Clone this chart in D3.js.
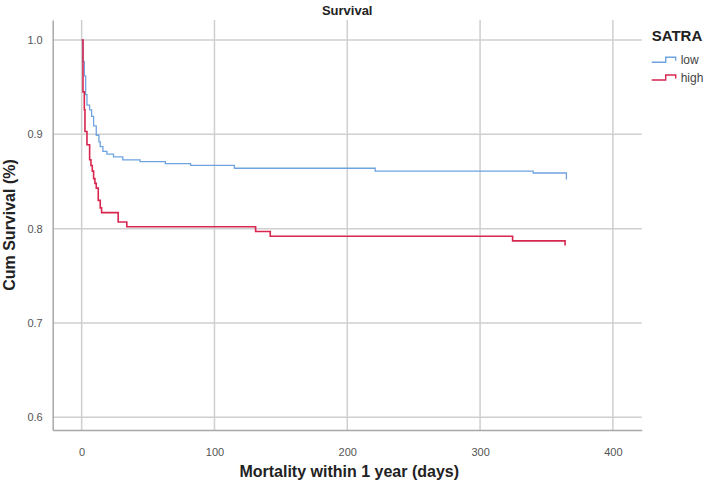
<!DOCTYPE html>
<html>
<head>
<meta charset="utf-8">
<script src="https://cdn.jsdelivr.net/npm/d3@7"></script>
<style>
  body { margin: 0; background: #fff; }
  text { font-family: "Liberation Sans", Arial, sans-serif; }
</style>
</head>
<body>
<div id="km-container"></div>
<script>
// Kaplan-Meier steps (day, cumulative survival)
const lowDays = [0, 1, 2, 3, 4, 6, 7.5, 9, 11, 13, 14, 16, 19, 24, 31, 44, 63, 82, 115, 221, 340, 365];
const lowSurv = [1.0, 0.977, 0.962, 0.942, 0.931, 0.926, 0.919, 0.909, 0.899, 0.892, 0.887, 0.882, 0.879, 0.876, 0.873, 0.871, 0.869, 0.867, 0.864, 0.861, 0.859, 0.852];

const highDays = [0, 1, 2, 2.5, 4, 6, 7, 8, 9, 10, 11, 12.5, 14, 15, 27.5, 34, 131, 142, 324.5, 364];
const highSurv = [1.0, 0.945, 0.926, 0.903, 0.889, 0.873, 0.867, 0.861, 0.853, 0.848, 0.843, 0.830, 0.822, 0.817, 0.807, 0.802, 0.797, 0.792, 0.787, 0.782];

const groups = ["low", "high"];
const xTicks = [0, 100, 200, 300, 400];
const yTicks = [0.6, 0.7, 0.8, 0.9, 1.0];

function survivalChart() {
  const width = 709;
  const height = 492;
  const margin = { top: 20, right: 67.3, bottom: 62, left: 52.7 };

  const svg = d3
    .select("#km-container")
    .append("svg")
    .attr("width", width)
    .attr("height", height);

  // scales
  const x = d3
    .scaleLinear()
    .domain([-21.8, 421.7])
    .range([margin.left, width - margin.right]);

  const y = d3
    .scaleLinear()
    .domain([0.5865, 1.0212])
    .range([height - margin.bottom, margin.top]);

  const color = d3
    .scaleOrdinal()
    .domain(groups)
    .range(["#6fa3df", "#d8264f"]);

  // gridlines
  svg
    .append("g")
    .selectAll("line")
    .data(yTicks)
    .join("line")
    .attr("x1", x.range()[0])
    .attr("x2", x.range()[1])
    .attr("y1", (d) => y(d))
    .attr("y2", (d) => y(d))
    .attr("stroke", "#cfcfcf")
    .attr("stroke-width", 1.5);

  svg
    .append("g")
    .selectAll("line")
    .data(xTicks)
    .join("line")
    .attr("x1", (d) => x(d))
    .attr("x2", (d) => x(d))
    .attr("y1", y.range()[0])
    .attr("y2", y.range()[1])
    .attr("stroke", "#cfcfcf")
    .attr("stroke-width", 1.5);

  // axes (no tick marks, just the line and labels)
  const xAxis = svg
    .append("g")
    .attr("transform", `translate(0,${y.range()[0]})`)
    .call(d3.axisBottom(x).tickValues(xTicks).tickSize(0).tickPadding(18).tickFormat(d3.format("d")));

  const yAxis = svg
    .append("g")
    .attr("transform", `translate(${x.range()[0]},0)`)
    .call(d3.axisLeft(y).tickValues(yTicks).tickSize(0).tickPadding(10).tickFormat(d3.format(".1f")));

  [xAxis, yAxis].forEach((ax) => {
    ax.select(".domain").attr("stroke", "#a8a8a8").attr("stroke-width", 1.5);
    ax.selectAll("text")
      .attr("fill", "#555")
      .style("font-size", "11px")
      .style("font-family", "'Liberation Sans', Arial, sans-serif");
  });

  // survival curves
  const line = d3
    .line()
    .curve(d3.curveStepAfter)
    .x((d) => x(d[0]))
    .y((d) => y(d[1]));

  const series = [
    { group: "low", pts: d3.zip(lowDays, lowSurv) },
    { group: "high", pts: d3.zip(highDays, highSurv) },
  ];

  svg
    .append("g")
    .selectAll("path")
    .data(series)
    .join("path")
    .attr("d", (d) => line(d.pts))
    .attr("fill", "none")
    .attr("stroke", (d) => color(d.group))
    .attr("stroke-width", (d) => (d.group === "high" ? 1.6 : 1.3));

  // titles
  svg
    .append("text")
    .attr("x", (x.range()[0] + x.range()[1]) / 2)
    .attr("y", 15)
    .attr("text-anchor", "middle")
    .style("font-size", "13px")
    .style("font-weight", "bold")
    .attr("fill", "#222")
    .text("Survival");

  svg
    .append("text")
    .attr("x", (x.range()[0] + x.range()[1]) / 2 + 2)
    .attr("y", 477)
    .attr("text-anchor", "middle")
    .style("font-size", "16px")
    .style("font-weight", "bold")
    .attr("fill", "#222")
    .text("Mortality within 1 year (days)");

  svg
    .append("text")
    .attr("transform", `translate(15,${(y.range()[0] + y.range()[1]) / 2}) rotate(-90)`)
    .attr("text-anchor", "middle")
    .style("font-size", "16px")
    .style("font-weight", "bold")
    .attr("fill", "#222")
    .text("Cum Survival (%)");

  // legend
  const legend = svg.append("g").attr("transform", "translate(651.7,0)");

  legend
    .append("text")
    .attr("x", 0)
    .attr("y", 41)
    .style("font-size", "15px")
    .style("font-weight", "bold")
    .attr("fill", "#222")
    .text("SATRA");

  const item = legend
    .selectAll(".legend-item")
    .data(groups)
    .join("g")
    .attr("class", "legend-item")
    .attr("transform", (d, i) => `translate(0,${62.3 + i * 17.7})`);

  item
    .append("path")
    .attr("d", "M0,0H14V-5H24V-1.5")
    .attr("fill", "none")
    .attr("stroke", (d) => color(d))
    .attr("stroke-width", 1.4);

  item
    .append("text")
    .attr("x", 29)
    .attr("y", 2)
    .style("font-size", "12px")
    .attr("fill", "#444")
    .text((d) => d);
}

survivalChart();
</script>
</body>
</html>
